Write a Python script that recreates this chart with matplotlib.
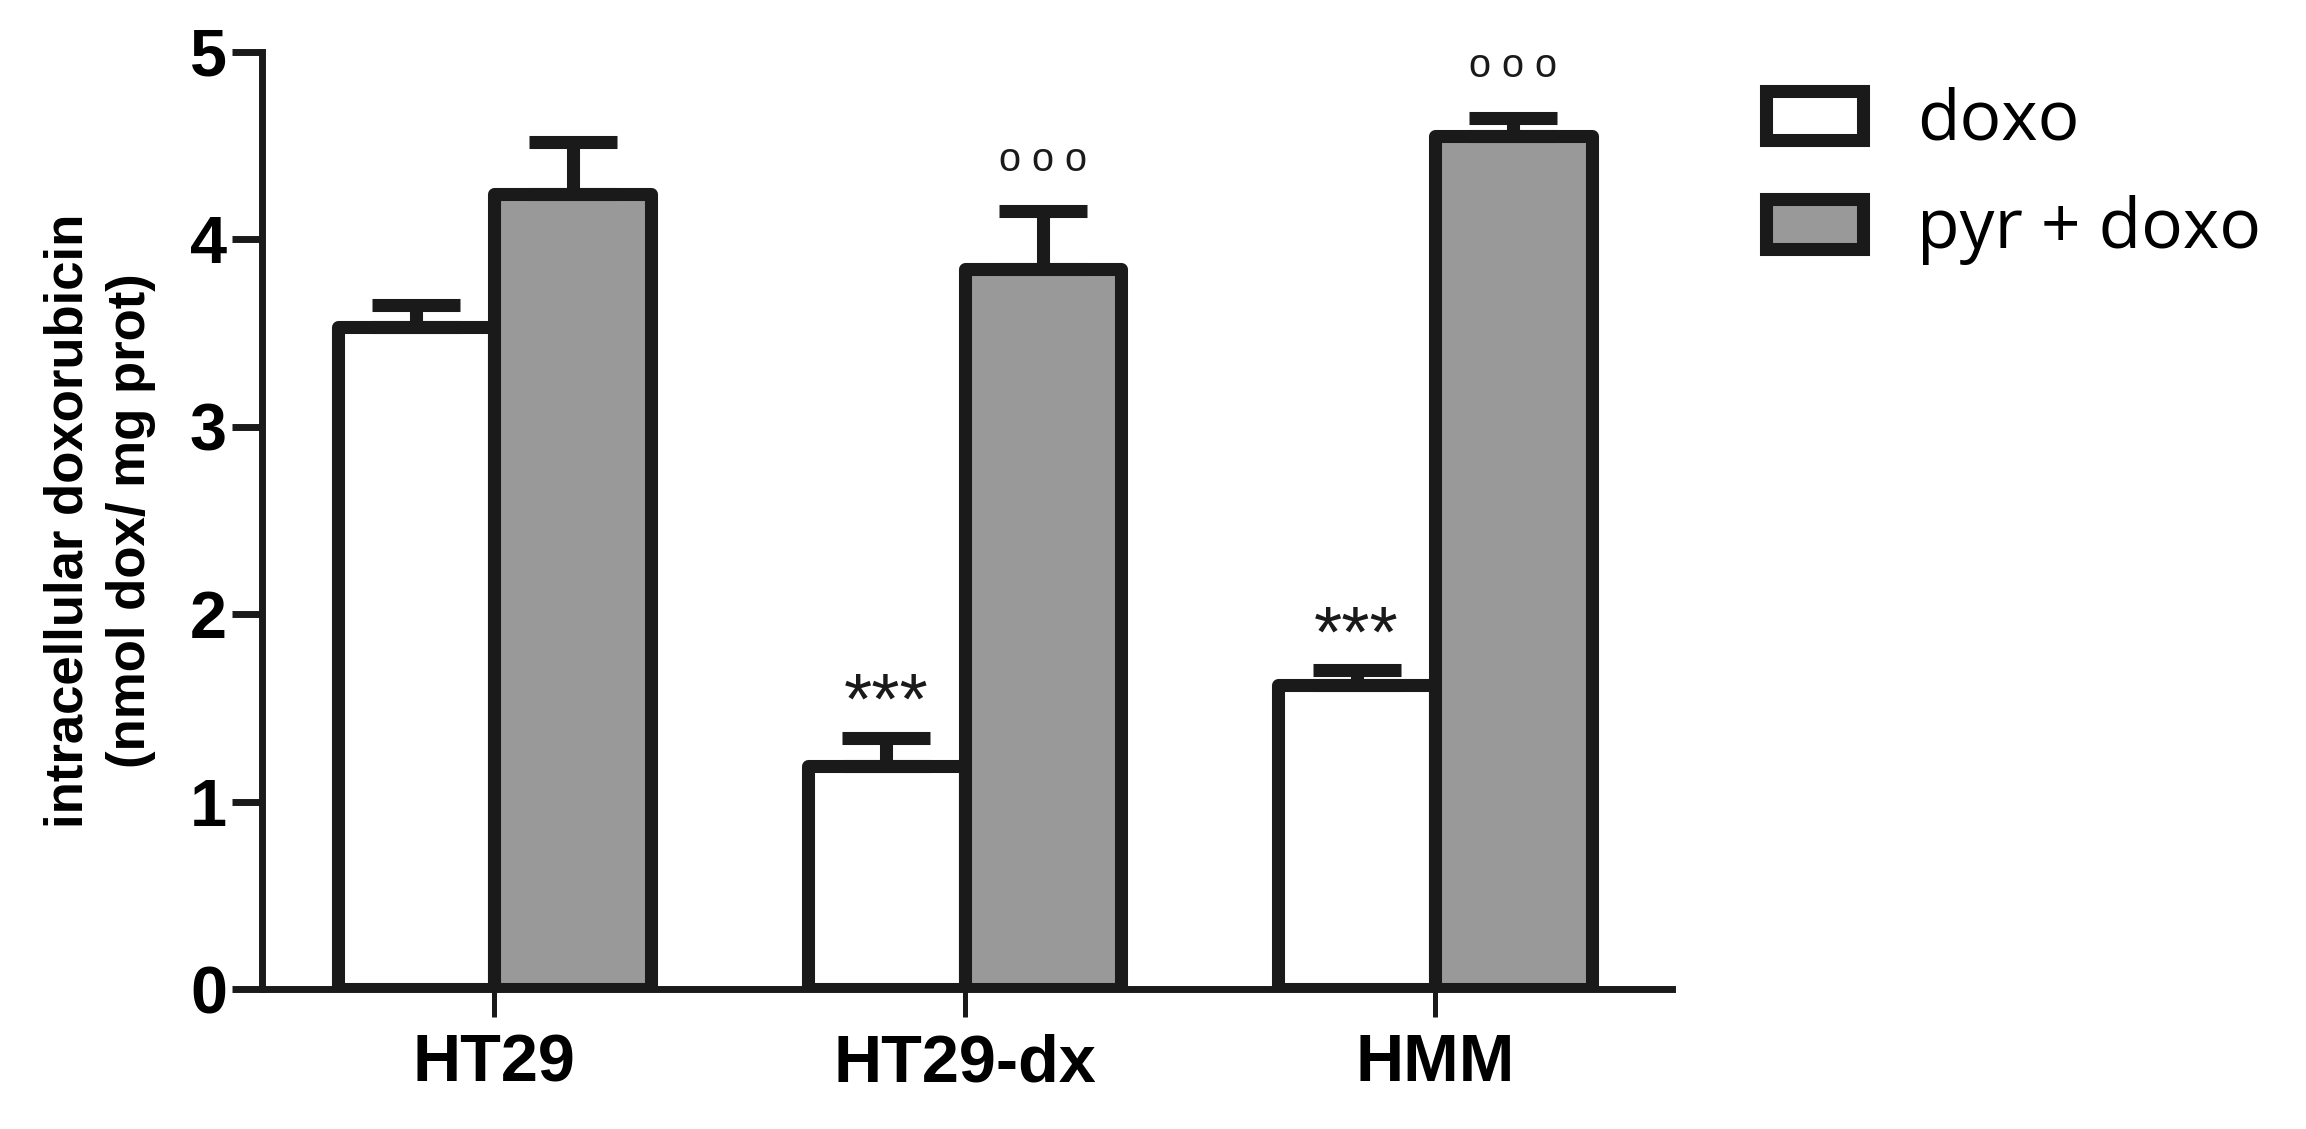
import numpy as np
import matplotlib
matplotlib.use("Agg")
import matplotlib.pyplot as plt

# values (nmol dox / mg prot)
cell_lines = ["HT29", "HT29-dx", "HMM"]
doxo_mean = [3.53, 1.19, 1.62]
doxo_sem = [0.12, 0.15, 0.08]
pyr_mean = [4.24, 3.84, 4.55]
pyr_sem = [0.28, 0.31, 0.10]
doxo_sig = ["", "***", "***"]
pyr_sig = ["", "o o o", "o o o"]
series_labels = ["doxo", "pyr + doxo"]
y_ticks = [0, 1, 2, 3, 4, 5]

edge = "#1a1a1a"
grey = "#999999"
bold_font = "Liberation Sans"

fig = plt.figure(figsize=(23.06, 11.29), dpi=100)
ax = fig.add_axes([262 / 2306, 1 - 989 / 1129, 1410 / 2306, 937 / 1129])

x = np.arange(len(cell_lines))
w = 0.333
lw = 9.4

b1 = ax.bar(x - w / 2, doxo_mean, w, color="white", edgecolor=edge,
            linewidth=lw, joinstyle="round", label=series_labels[0], zorder=2)
b2 = ax.bar(x + w / 2, pyr_mean, w, color=grey, edgecolor=edge,
            linewidth=lw, joinstyle="round", label=series_labels[1], zorder=2)

# one sided error bars (upwards only)
for xs, m, s in [(x - w / 2, doxo_mean, doxo_sem), (x + w / 2, pyr_mean, pyr_sem)]:
    ax.errorbar(xs, m, yerr=[np.zeros(len(s)), s], fmt="none", ecolor=edge,
                elinewidth=lw, capsize=32, capthick=lw, zorder=3)

# significance marks above the caps
for i in range(len(cell_lines)):
    if doxo_sig[i]:
        ax.annotate(doxo_sig[i], xy=(x[i] - w / 2, doxo_mean[i] + doxo_sem[i]),
                    xytext=(0, 39 - 29), textcoords="offset points",
                    ha="center", va="baseline", fontsize=52,
                    family=bold_font, color=edge)
    if pyr_sig[i]:
        ax.annotate(pyr_sig[i], xy=(x[i] + w / 2, pyr_mean[i] + pyr_sem[i]),
                    xytext=(0, 37 - 8), textcoords="offset points",
                    ha="center", va="baseline", fontsize=28.5,
                    family=bold_font, color=edge)

ax.set_xlim(-0.494, 2.504)
ax.set_ylim(0, 5)
ax.set_yticks(y_ticks)
ax.set_xticks(x)
ax.set_xticklabels(cell_lines)

for s in ["top", "right"]:
    ax.spines[s].set_visible(False)
for s in ["left", "bottom"]:
    ax.spines[s].set_linewidth(5)
    ax.spines[s].set_color(edge)

ax.tick_params(axis="y", length=21.6, width=5, pad=3.6, color=edge)
ax.tick_params(axis="x", length=20, width=3.6, pad=12, color=edge)
for lab in ax.get_xticklabels() + ax.get_yticklabels():
    lab.set_fontfamily(bold_font)
    lab.set_fontweight("bold")
    lab.set_fontsize(48)

ax.set_ylabel("intracellular doxorubicin\n(nmol dox/ mg prot)", fontsize=38,
              fontweight="bold", family=bold_font, linespacing=1.3,
              va="center", ha="center", multialignment="center")
ax.yaxis.set_label_coords(-0.115, 0.5)

ax.legend(handles=[b1, b2], loc="upper left",
          bbox_to_anchor=(1766 / 2306, 1 - 87 / 1129),
          bbox_transform=fig.transFigure, frameon=False, borderpad=0,
          borderaxespad=0, handlelength=1.39, handleheight=0.72,
          handletextpad=0.79, labelspacing=0.55,
          prop={"family": "Open Sans", "size": 50})

fig.savefig("out.png", dpi=100)
